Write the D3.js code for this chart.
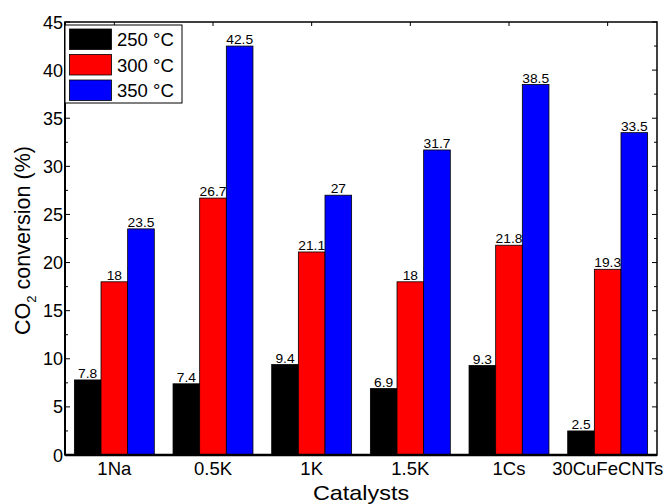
<!DOCTYPE html>
<html><head><meta charset="utf-8">
<script src="https://cdn.jsdelivr.net/npm/d3@7"></script>
<style>body{margin:0;background:#fff}svg{display:block;font-family:"Liberation Sans",Arial,sans-serif}</style>
</head><body>
<svg id="c" width="665" height="504"></svg>
<script>
const categories = ["1Na","0.5K","1K","1.5K","1Cs","30CuFeCNTs"];
const seriesNames = ["250 °C","300 °C","350 °C"];
const seriesColors = ["#000000","#ff0000","#0000ff"];
const values250 = [7.8,7.4,9.4,6.9,9.3,2.5];
const values300 = [18,26.7,21.1,18,21.8,19.3];
const values350 = [23.5,42.5,27,31.7,38.5,33.5];
const yTicks = [0,5,10,15,20,25,30,35,40,45];
const series = [values250, values300, values350];

const svg = d3.select("#c");
const L=65, R=657, T=22, B=455;
const x = d3.scaleBand().domain(categories).range([L,R]).paddingInner(0.19).paddingOuter(0.095);
const xs = d3.scaleBand().domain(d3.range(3)).range([0,x.bandwidth()]);
const y = d3.scaleLinear().domain([0,45]).range([B,T]);

// bars
categories.forEach((c,i)=>{
  series.forEach((s,j)=>{
    const bx = x(c)+xs(j), w = xs.bandwidth(), v = s[i];
    svg.append("rect").attr("x",bx).attr("y",y(v)).attr("width",w).attr("height",B-y(v))
      .attr("fill",seriesColors[j]).attr("stroke","#000").attr("stroke-width",0.8);
    svg.append("text").attr("transform",`translate(${bx+w/2},${y(v)-2}) scale(1.15,1)`).attr("text-anchor","middle")
      .attr("font-size",12).attr("fill","#000").text(v);
  });
});

// frame
svg.append("rect").attr("x",L).attr("y",T).attr("width",R-L).attr("height",B-T)
  .attr("fill","none").attr("stroke","#000").attr("stroke-width",1.5);
svg.append("line").attr("x1",L).attr("x2",R).attr("y1",B).attr("y2",B).attr("stroke","#000").attr("stroke-width",2.5);
svg.append("line").attr("x1",L).attr("x2",L).attr("y1",T).attr("y2",B).attr("stroke","#000").attr("stroke-width",2);

// y ticks (inside), left & right, with minor
const minor = d3.range(2.5,45,5);
yTicks.forEach(t=>{
  svg.append("line").attr("x1",L).attr("x2",L+5).attr("y1",y(t)).attr("y2",y(t)).attr("stroke","#000");
  svg.append("line").attr("x1",R).attr("x2",R-5).attr("y1",y(t)).attr("y2",y(t)).attr("stroke","#000");
});
minor.forEach(t=>{
  svg.append("line").attr("x1",L).attr("x2",L+3).attr("y1",y(t)).attr("y2",y(t)).attr("stroke","#000");
  svg.append("line").attr("x1",R).attr("x2",R-3).attr("y1",y(t)).attr("y2",y(t)).attr("stroke","#000");
});
// top ticks
categories.forEach(c=>{
  const cx = x(c)+x.bandwidth()/2;
  svg.append("line").attr("x1",cx).attr("x2",cx).attr("y1",T).attr("y2",T+4).attr("stroke","#000");
});
// y tick labels
svg.append("g").selectAll("text").data(yTicks).join("text")
  .attr("x",L-2).attr("y",d=>y(d)+6.5).attr("text-anchor","end").attr("font-size",18).text(d=>d);
// x tick labels
svg.append("g").selectAll("text").data(categories).join("text")
  .attr("x",d=>x(d)+x.bandwidth()/2).attr("y",475).attr("text-anchor","middle").attr("font-size",18.5).text(d=>d);

// axis titles
svg.append("text").attr("transform",`translate(${(L+R)/2},500) scale(1.17,1)`).attr("text-anchor","middle").attr("font-size",20).text("Catalysts");
const yl = svg.append("text").attr("transform",`translate(30,${(T+B)/2+2}) rotate(-90)`)
  .attr("text-anchor","middle").attr("font-size",21.5);
yl.append("tspan").text("CO");
yl.append("tspan").attr("font-size",13).attr("dy",6).text("2");
yl.append("tspan").attr("dy",-6).text(" conversion (%)");

// legend
const lg = svg.append("g");
lg.append("rect").attr("x",65).attr("y",25).attr("width",117).attr("height",78).attr("fill","#fff").attr("stroke","#000").attr("stroke-width",1);
seriesNames.forEach((n,j)=>{
  const yy = 29 + j*25.5;
  lg.append("rect").attr("x",69.5).attr("y",yy).attr("width",42).attr("height",20.5).attr("fill",seriesColors[j]).attr("stroke","#000").attr("stroke-width",0.8);
  lg.append("text").attr("x",117).attr("y",yy+17).attr("font-size",18.5).text(n);
});
</script>
</body></html>
